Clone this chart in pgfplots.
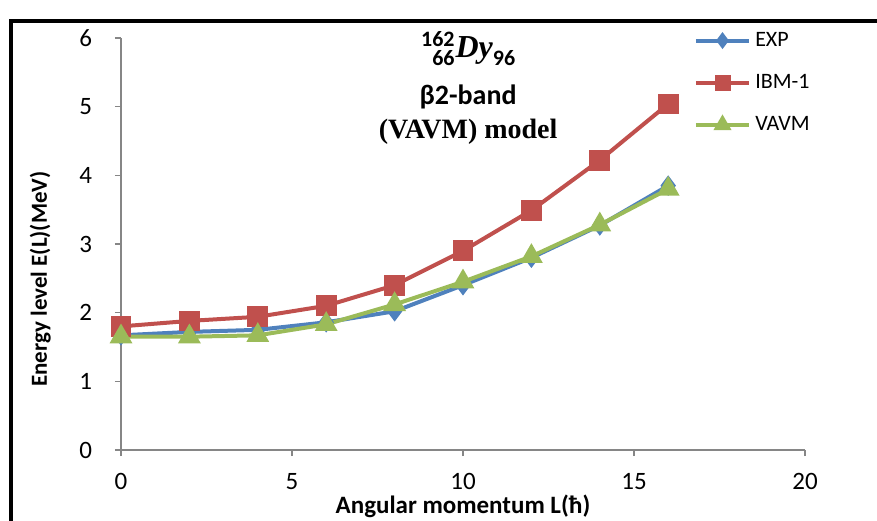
\documentclass[border=0pt]{standalone}
\usepackage{pgfplots}
\pgfplotsset{compat=1.18}
\usepackage{fontspec}
\setmainfont{Carlito}
\newfontfamily\timesb{Liberation Serif}
\definecolor{expblue}{HTML}{4F81BD}
\definecolor{ibmred}{HTML}{C0504D}
\definecolor{vavmgreen}{HTML}{9BBB59}
\definecolor{axgray}{HTML}{868686}
\begin{document}
\begin{tikzpicture}
\useasboundingbox (-60.5pt,-35pt) rectangle (378pt,225pt);
\draw[line width=2pt,black] (-55pt,-36pt) -- (-55pt,214.5pt) -- (379pt,214.5pt);
\begin{axis}[
  scale only axis,
  width=342pt, height=206pt,
  xmin=0, xmax=20, ymin=0, ymax=6,
  xtick={0,5,10,15,20}, ytick={0,1,2,3,4,5,6},
  axis lines=left,
  axis line style={-, draw=axgray, line width=0.8pt},
  tick style={draw=axgray, line width=0.8pt},
  tick align=outside,
  major tick length=3pt,
  every tick label/.style={font=\fontsize{12.5}{14}\selectfont},
  yticklabel style={xshift=-8pt},
  xticklabel style={yshift=-5pt},
  /pgf/number format/assume math mode=true,
  xlabel={\bfseries Angular momentum L(ħ)},
  ylabel={\bfseries Energy level E(L)(MeV)},
  every axis x label/.style={at={(axis description cs:0.5,-0.136)}, anchor=center, font=\fontsize{12.5}{14}\selectfont},
  every axis y label/.style={at={(axis description cs:-0.118,0.415)}, rotate=90, anchor=center, font=\fontsize{11.5}{14}\selectfont},
  legend style={draw=none, fill=none, at={(rel axis cs:0.828,1.035)}, anchor=north west,
    row sep=8.5pt, font=\fontsize{11}{12}\selectfont},
  legend cell align=left,
  legend image code/.code={\draw[mark repeat=2,mark phase=2] plot coordinates {(0cm,0cm)(0.47cm,0cm)(0.94cm,0cm)};},
  clip=false,
]
\addplot[color=expblue, line width=2pt, mark=diamond*, mark size=3.5pt, mark options={solid, fill=expblue},
  legend image post style={mark size=2.6pt}]
  coordinates {(0,1.67) (2,1.72) (4,1.75) (6,1.86) (8,2.02) (10,2.40) (12,2.80) (14,3.27) (16,3.85)};
\addlegendentry{EXP}
\addplot[color=ibmred, line width=2pt, mark=square*, mark size=4.2pt, mark options={solid, fill=ibmred},
  legend image post style={mark size=3pt}]
  coordinates {(0,1.80) (2,1.88) (4,1.94) (6,2.10) (8,2.40) (10,2.90) (12,3.49) (14,4.22) (16,5.04)};
\addlegendentry{IBM-1}
\addplot[color=vavmgreen, line width=2pt, mark=triangle*, mark size=4.6pt, mark options={solid, fill=vavmgreen},
  legend image post style={mark size=3.2pt}]
  coordinates {(0,1.65) (2,1.65) (4,1.67) (6,1.83) (8,2.12) (10,2.45) (12,2.82) (14,3.28) (16,3.80)};
\addlegendentry{VAVM}
\node[font=\fontsize{15}{17}\selectfont\bfseries, inner sep=0pt] at (axis cs:10.15,5.8)
  {\fontsize{11}{11}\selectfont\begin{tabular}{@{}r@{}}162\\[-1.5pt]66\end{tabular}\hspace{0.5pt}{\fontsize{16}{17}\selectfont\timesb\bfseries\itshape Dy}\raisebox{-4pt}{\fontsize{11}{12}\selectfont 96}};
\node[font=\fontsize{14}{16}\selectfont\bfseries] at (axis cs:10.15,5.14) {β2-band};
\node[font=\fontsize{14}{16}\selectfont\timesb\bfseries] at (axis cs:10.15,4.63) {(VAVM) model};
\end{axis}
\end{tikzpicture}
\end{document}
